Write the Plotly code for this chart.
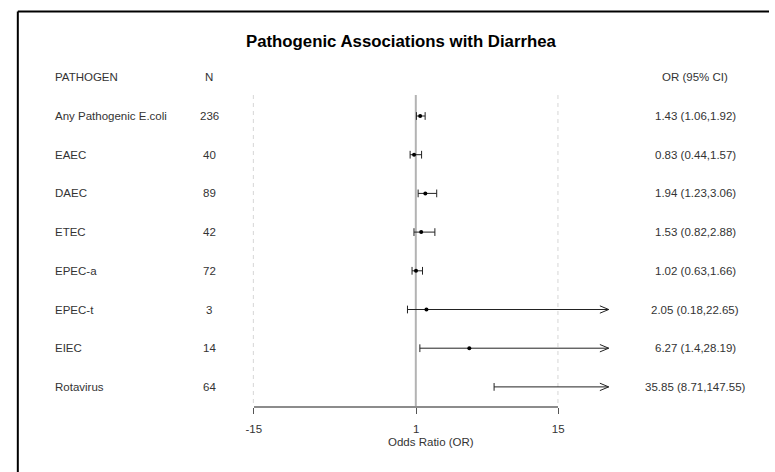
import plotly.graph_objects as go

# ---- data ----
pathogens = ["Any Pathogenic E.coli", "EAEC", "DAEC", "ETEC", "EPEC-a", "EPEC-t", "EIEC", "Rotavirus"]
n_cases = [236, 40, 89, 42, 72, 3, 14, 64]
odds_ratio = [1.43, 0.83, 1.94, 1.53, 1.02, 2.05, 6.27, 35.85]
ci_low = [1.06, 0.44, 1.23, 0.82, 0.63, 0.18, 1.4, 8.71]
ci_high = [1.92, 1.57, 3.06, 2.88, 1.66, 22.65, 28.19, 147.55]
tick_vals = [-15, 1, 15]
tick_text = ["-15", "1", "15"]

# ---- layout constants ----
W, H = 775, 472
PX0, PXU = 415.3, 10.34          # pixel of x=1, pixels per unit
ROW0, ROWH = 116.0, 38.7         # pixel of first row, row height
CLIP = 20.0                       # right edge of plotting region (data units)
REF = 1
FONT = "Liberation Sans, Arial, Helvetica, sans-serif"
TXT = "#333333"
FS = 11.5

xmin = REF - PX0 / PXU
xmax = REF + (W - PX0) / PXU
ymin = (0 - ROW0) / ROWH
ymax = (H - ROW0) / ROWH
axis_px = 407.0
top_px = 95.0
y_bottom = (axis_px - ROW0) / ROWH
y_top = (top_px - ROW0) / ROWH

rows = list(range(len(pathogens)))

seg_x, seg_y = [], []
cap_x, cap_y = [], []
arr_x, arr_y = [], []
pt_x, pt_y = [], []
capH = 0.1
aL, aH = 9 / PXU, 3.7 / ROWH
for i, (o, lo, hi) in enumerate(zip(odds_ratio, ci_low, ci_high)):
    right = min(hi, CLIP)
    seg_x += [lo, right, None]
    seg_y += [i, i, None]
    cap_x += [lo, lo, None]
    cap_y += [i - capH, i + capH, None]
    if hi <= CLIP:
        cap_x += [hi, hi, None]
        cap_y += [i - capH, i + capH, None]
    else:
        arr_x += [CLIP - aL, CLIP, CLIP - aL, None]
        arr_y += [i - aH, i, i + aH, None]
    if o <= CLIP:
        pt_x.append(o)
        pt_y.append(i)

fig = go.Figure()
fig.add_trace(go.Scatter(x=seg_x, y=seg_y, mode="lines",
                         line=dict(color="#222222", width=1), hoverinfo="skip", showlegend=False))
fig.add_trace(go.Scatter(x=cap_x, y=cap_y, mode="lines",
                         line=dict(color="#222222", width=1), hoverinfo="skip", showlegend=False))
fig.add_trace(go.Scatter(x=arr_x, y=arr_y, mode="lines",
                         line=dict(color="#222222", width=1), hoverinfo="skip", showlegend=False))
fig.add_trace(go.Scatter(x=pt_x, y=pt_y, mode="markers",
                         marker=dict(color="black", size=4), hoverinfo="skip", showlegend=False))
fig.add_trace(go.Scatter(x=tick_vals, y=[y_bottom] * 3, xaxis="x2", yaxis="y", mode="markers",
                         marker=dict(opacity=0), hoverinfo="skip", showlegend=False))

shapes = []
shapes.append(dict(type="line", xref="x", yref="y", x0=REF, x1=REF, y0=y_top, y1=y_bottom,
                   line=dict(color="#b3b3b3", width=2), layer="below"))
for v in (-15, 15):
    shapes.append(dict(type="line", xref="x", yref="y", x0=v, x1=v, y0=y_top, y1=y_bottom,
                       line=dict(color="#d6d6d6", width=1, dash="4px,4px"), layer="below"))
bx, by = 10 / W, 1 - 11.5 / H
shapes.append(dict(type="line", xref="paper", yref="paper", x0=bx, x1=1, y0=by, y1=by,
                   line=dict(color="black", width=2)))
shapes.append(dict(type="line", xref="paper", yref="paper", x0=bx, x1=bx, y0=by, y1=0,
                   line=dict(color="black", width=2)))

ann = []
def txt(x, y, s, anchor, xref="paper", yref="y", size=FS, color=TXT, bold=False):
    ann.append(dict(x=x, y=y, xref=xref, yref=yref, text=("<b>%s</b>" % s) if bold else s,
                    showarrow=False, xanchor=anchor, yanchor="middle",
                    font=dict(family=FONT, size=size, color=color)))

colP, colN, colOR = 46 / W, 205 / W, 700 / W
txt(colP, -1, "PATHOGEN", "left")
txt(colN, -1, "N", "center")
txt(colOR, -1, "OR (95% CI)", "center")
for i in rows:
    txt(colP, i, pathogens[i], "left")
    txt(colN, i, str(n_cases[i]), "center")
    txt(colOR, i, "%s (%s,%s)" % (odds_ratio[i], ci_low[i], ci_high[i]), "center")

txt(400.5 / W, 1 - 41.5 / H, "Pathogenic Associations with Diarrhea", "center", yref="paper",
    size=16.8, color="black", bold=True)
txt(2.5, 1 - 442 / H, "Odds Ratio (OR)", "center", xref="x", yref="paper")

fig.update_layout(
    width=W, height=H, margin=dict(l=0, r=0, t=0, b=0),
    paper_bgcolor="white", plot_bgcolor="rgba(0,0,0,0)",
    xaxis=dict(range=[xmin, xmax], visible=False, domain=[0, 1]),
    yaxis=dict(range=[ymax, ymin], visible=False, domain=[0, 1]),
    xaxis2=dict(domain=[250.3 / W, 560.3 / W], range=[-15, 15], anchor="free",
                position=1 - axis_px / H, showline=True, linecolor="#8c8c8c", linewidth=2,
                ticks="outside", ticklen=6, tickwidth=1, tickcolor="#555555",
                tickvals=tick_vals, ticktext=tick_text, showgrid=False, zeroline=False,
                tickfont=dict(family=FONT, size=FS, color=TXT), ticklabelstandoff=5),
    shapes=shapes, annotations=ann,
)
fig.write_html("out.html")
